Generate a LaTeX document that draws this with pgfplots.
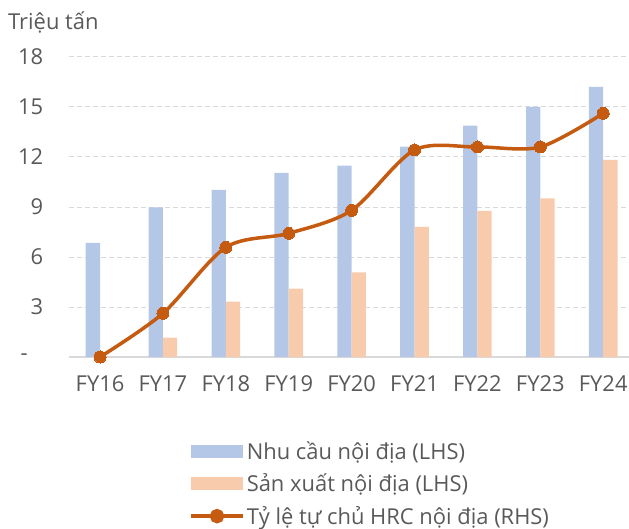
\documentclass[border=0pt]{standalone}
\usepackage{pgfplots}
\pgfplotsset{compat=1.18}
\usepackage{fontspec}
\setmainfont{Open Sans}
\definecolor{cblue}{HTML}{B4C7E7}
\definecolor{cpeach}{HTML}{F8CBAD}
\definecolor{corange}{HTML}{C55A11}
\definecolor{ctext}{HTML}{595959}
\definecolor{cgrid}{HTML}{D9D9D9}
\begin{document}
\begin{tikzpicture}[font=\fontsize{22}{26}\selectfont\color{ctext}]
\useasboundingbox (0,0) rectangle (629bp,529bp);
\node[anchor=west, text=ctext, inner sep=0pt] at (8bp,507bp) {Triệu tấn};
\node[anchor=east, text=ctext, inner sep=0pt] at (28bp,172bp) {-};
\begin{axis}[
  at={(68.6bp,172bp)}, anchor=south west,
  scale only axis, width=560.4bp, height=300bp,
  xmin=-0.5, xmax=8.41, ymin=0, ymax=18,
  axis x line*=bottom, axis y line*=left,
  x axis line style={cgrid, line width=1.2pt},
  y axis line style={draw=none},
  xtick={0,...,8}, xticklabels={FY16,FY17,FY18,FY19,FY20,FY21,FY22,FY23,FY24},
  major tick length=0pt,
  xticklabel style={text=ctext, yshift=-15bp},
  ytick={0,3,6,9,12,15,18},
  yticklabels={{},3,6,9,12,15,18},
  yticklabel style={text=ctext, xshift=-22bp},
  ymajorgrids, grid style={cgrid, line width=1pt, dash pattern=on 5bp off 3bp},
  tick label style={font=\fontsize{22}{26}\selectfont, text=ctext},
  clip=false,
  legend style={at={(0.215,-0.275)}, anchor=north west, draw=none, fill=none,
    font=\fontsize{22}{26}\selectfont, text=ctext, row sep=9bp, cells={anchor=west},
    inner sep=0pt},
  legend cell align=left,
]
\addplot[ybar, bar width=14.3bp, bar shift=-7.15bp, fill=cblue, draw=none,
  area legend, legend image code/.code={\fill[cblue] (0bp,-6.5bp) rectangle (52bp,6.5bp);}]
  coordinates {(0,6.84) (1,8.98) (2,10.02) (3,11.04) (4,11.48) (5,12.62) (6,13.88) (7,15.0) (8,16.2)};
\addlegendentry{Nhu cầu nội địa (LHS)}
\addplot[ybar, bar width=14.3bp, bar shift=7.15bp, fill=cpeach, draw=none,
  area legend, legend image code/.code={\fill[cpeach] (0bp,-6.5bp) rectangle (52bp,6.5bp);}]
  coordinates {(0,0) (1,1.16) (2,3.32) (3,4.1) (4,5.08) (5,7.8) (6,8.76) (7,9.52) (8,11.82)};
\addlegendentry{Sản xuất nội địa (LHS)}
\addplot[corange, line width=3.5bp, smooth, mark=*, mark size=6bp, mark options={fill=corange, draw=corange, line width=0pt},
  legend image code/.code={\draw[corange, line width=3.5bp] (0bp,0bp) -- (52bp,0bp); \fill[corange] (26bp,0bp) circle (5.5bp);}]
  coordinates {(0,0) (1,2.62) (2,6.58) (3,7.42) (4,8.8) (5,12.42) (6,12.6) (7,12.6) (8,14.62)};
\addlegendentry{Tỷ lệ tự chủ HRC nội địa (RHS)}
\end{axis}
\end{tikzpicture}
\end{document}
